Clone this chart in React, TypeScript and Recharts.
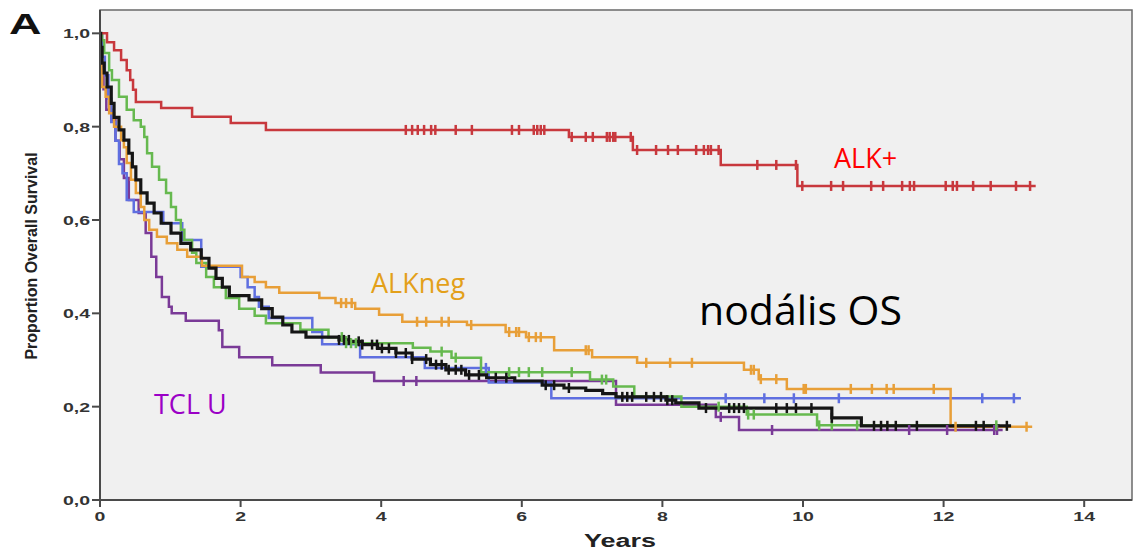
import { ComposedChart, Line, Scatter, XAxis, YAxis, ReferenceArea } from "recharts";

// axis ticks
const yearTicks = [0, 2, 4, 6, 8, 10, 12, 14];
const survTicks = [0, 0.2, 0.4, 0.6, 0.8, 1.0];

// ALK+ (red)
const alkPosT = [0, 0.1, 0.2, 0.3, 0.38, 0.43, 0.47, 0.51, 0.87, 1.31, 1.86, 2.36, 6.67, 7.58, 8.83, 9.92];
const alkPosS = [1.0, 0.981, 0.964, 0.943, 0.921, 0.9, 0.879, 0.853, 0.84, 0.821, 0.808, 0.793, 0.778, 0.75, 0.718, 0.673];
const alkPosEnd = 13.31;
const alkPosCens = [4.35, 4.44, 4.52, 4.61, 4.71, 4.77, 5.06, 5.29, 5.86, 5.96, 6.17, 6.22, 6.27, 6.32, 6.71, 6.91, 7.01, 7.21, 7.25, 7.3, 7.33, 7.55, 7.64, 7.91, 8.08, 8.22, 8.48, 8.59, 8.65, 8.69, 8.8, 9.35, 9.62, 9.9, 9.99, 10.4, 10.57, 10.97, 11.14, 11.41, 11.52, 11.58, 12.03, 12.13, 12.19, 12.42, 12.67, 13.03, 13.23];

// ALKneg (orange)
const alkNegT = [0, 0.01, 0.02, 0.03, 0.08, 0.13, 0.2, 0.3, 0.34, 0.38, 0.44, 0.51, 0.58, 0.63, 0.7, 0.81, 0.95, 1.1, 1.24, 1.45, 2.02, 2.2, 2.36, 2.55, 3.12, 3.35, 3.63, 3.97, 4.3, 5.22, 5.77, 6.06, 6.46, 7.0, 7.64, 9.16, 9.37, 9.77, 12.1];
const alkNegS = [1.0, 0.96, 0.92, 0.885, 0.864, 0.829, 0.8, 0.771, 0.756, 0.722, 0.686, 0.658, 0.628, 0.6, 0.579, 0.564, 0.55, 0.536, 0.521, 0.502, 0.478, 0.467, 0.456, 0.444, 0.433, 0.422, 0.41, 0.397, 0.382, 0.375, 0.36, 0.349, 0.321, 0.306, 0.294, 0.279, 0.259, 0.238, 0.157];
const alkNegEnd = 13.26;
const alkNegCens = [3.43, 3.5, 3.58, 4.51, 4.64, 4.86, 4.96, 5.28, 5.82, 5.92, 5.96, 6.1, 6.2, 6.27, 6.91, 6.95, 7.77, 8.11, 8.42, 9.26, 9.3, 9.4, 9.62, 10.01, 10.04, 10.68, 10.98, 11.19, 11.29, 11.86, 12.17, 13.18];

// green group
const greenT = [0, 0.03, 0.06, 0.13, 0.17, 0.27, 0.38, 0.48, 0.58, 0.63, 0.67, 0.74, 0.84, 0.94, 1.01, 1.08, 1.15, 1.2, 1.31, 1.37, 1.51, 1.62, 1.79, 1.98, 2.2, 2.36, 2.85, 3.25, 3.5, 4.45, 4.7, 5.0, 5.42, 6.97, 7.3, 7.6, 8.27, 9.2, 10.2];
const greenS = [1.0, 0.985, 0.958, 0.921, 0.9, 0.864, 0.836, 0.814, 0.8, 0.778, 0.743, 0.714, 0.686, 0.658, 0.628, 0.6, 0.579, 0.557, 0.53, 0.508, 0.478, 0.456, 0.433, 0.41, 0.395, 0.379, 0.365, 0.349, 0.336, 0.326, 0.318, 0.305, 0.274, 0.258, 0.243, 0.222, 0.2, 0.183, 0.16];
const greenEnd = 12.8;
const greenCens = [3.44, 3.5, 3.57, 3.64, 4.86, 5.06, 5.82, 5.96, 6.1, 6.29, 6.71, 7.14, 7.2, 8.8, 9.22, 9.3, 10.23, 10.41, 10.77, 12.75];

// blue group
const blueT = [0, 0.03, 0.07, 0.12, 0.16, 0.22, 0.27, 0.32, 0.38, 0.48, 0.9, 1.17, 1.44, 2.0, 2.1, 2.2, 2.26, 2.4, 3.02, 3.16, 3.7, 4.62, 5.53, 6.42];
const blueS = [1.0, 0.95, 0.91, 0.86, 0.81, 0.77, 0.72, 0.7, 0.643, 0.617, 0.593, 0.557, 0.5, 0.478, 0.456, 0.435, 0.414, 0.39, 0.36, 0.334, 0.306, 0.283, 0.252, 0.218];
const blueEnd = 13.1;
const blueCens = [5.49, 8.9, 9.45, 9.87, 10.51, 12.55, 13.0];

// TCL U (purple)
const tclT = [0, 0.02, 0.05, 0.09, 0.16, 0.22, 0.28, 0.34, 0.41, 0.55, 0.65, 0.73, 0.8, 0.88, 0.98, 1.02, 1.22, 1.69, 1.74, 1.98, 2.45, 3.14, 3.9, 7.34, 8.76, 9.09];
const tclS = [1.0, 0.93, 0.88, 0.836, 0.814, 0.77, 0.73, 0.69, 0.643, 0.615, 0.572, 0.521, 0.478, 0.435, 0.414, 0.4, 0.384, 0.364, 0.328, 0.306, 0.289, 0.273, 0.255, 0.204, 0.178, 0.15];
const tclEnd = 12.84;
const tclCens = [4.32, 4.5, 8.83, 9.56, 11.51, 12.05, 12.72, 12.76];

// nodal OS overall (black)
const allT = [0, 0.01, 0.03, 0.06, 0.1, 0.16, 0.2, 0.27, 0.34, 0.41, 0.46, 0.51, 0.58, 0.67, 0.77, 0.87, 1.01, 1.15, 1.29, 1.44, 1.55, 1.65, 1.74, 1.84, 2.12, 2.3, 2.45, 2.6, 2.73, 2.93, 3.4, 3.55, 3.73, 3.95, 4.21, 4.44, 4.7, 4.92, 5.2, 5.5, 5.9, 6.29, 6.6, 6.91, 7.15, 7.34, 8.05, 8.19, 8.52, 10.41, 10.83];
const allS = [1.0, 0.97, 0.936, 0.915, 0.885, 0.85, 0.82, 0.793, 0.771, 0.743, 0.714, 0.686, 0.658, 0.636, 0.615, 0.593, 0.572, 0.55, 0.536, 0.518, 0.497, 0.475, 0.456, 0.438, 0.429, 0.41, 0.392, 0.375, 0.36, 0.349, 0.343, 0.34, 0.333, 0.325, 0.315, 0.302, 0.29, 0.279, 0.268, 0.262, 0.255, 0.246, 0.24, 0.235, 0.228, 0.221, 0.214, 0.208, 0.197, 0.176, 0.159];
const allEnd = 12.96;
const allCens = [3.4, 3.47, 3.54, 3.68, 3.73, 3.87, 3.94, 4.01, 4.11, 4.21, 4.35, 4.44, 4.64, 4.78, 4.86, 4.96, 5.06, 5.14, 5.25, 5.39, 5.63, 5.78, 6.34, 6.46, 6.67, 7.43, 7.5, 7.57, 7.77, 7.88, 7.98, 8.07, 8.14, 8.62, 8.95, 9.02, 9.09, 9.16, 9.62, 9.77, 9.9, 10.12, 10.41, 11.01, 11.11, 11.2, 11.32, 11.62, 12.46, 12.57, 12.9];

const X_MAX = 14.68;
const Y_MAX = 1.05;
const narrow = "'Liberation Sans Narrow', 'Liberation Sans', Arial, sans-serif";
const calibri = "'Open Sans', 'Noto Sans', sans-serif";

function steps(ts: number[], ss: number[], end: number) {
  const pts = ts.map((t, i) => ({ t, s: ss[i] }));
  pts.push({ t: end, s: ss[ss.length - 1] });
  return pts;
}

// censor marks sit on the curve at their time
function censored(ts: number[], ss: number[], cens: number[]) {
  return cens.map((c) => {
    let i = 0;
    while (i + 1 < ts.length && ts[i + 1] <= c) i++;
    return { t: c, s: ss[i] };
  });
}

const series = [
  { name: "TCL U", t: tclT, s: tclS, end: tclEnd, cens: tclCens, color: "#7a3a97", w: 2.5 },
  { name: "blue", t: blueT, s: blueS, end: blueEnd, cens: blueCens, color: "#5f6fe0", w: 2.5 },
  { name: "green", t: greenT, s: greenS, end: greenEnd, cens: greenCens, color: "#66b94f", w: 2.5 },
  { name: "ALKneg", t: alkNegT, s: alkNegS, end: alkNegEnd, cens: alkNegCens, color: "#e89f38", w: 2.5 },
  { name: "ALK+", t: alkPosT, s: alkPosS, end: alkPosEnd, cens: alkPosCens, color: "#c8383d", w: 2.5 },
  { name: "nodal OS", t: allT, s: allS, end: allEnd, cens: allCens, color: "#151515", w: 3.2 },
];

const stretch = (x: number) => `translate(${x} 0) scale(1.5 1) translate(${-x} 0)`;

function YTick(props: any) {
  const { x, y, payload } = props;
  return (
    <text x={x} y={y} dy={5} textAnchor="end" fontSize={13} fontWeight="bold" fill="#333"
      fontFamily={narrow} transform={stretch(x)}>
      {payload.value.toFixed(1).replace(".", ",")}
    </text>
  );
}

function XTick(props: any) {
  const { x, y, payload } = props;
  return (
    <text x={x} y={y} dy={12} textAnchor="middle" fontSize={13} fontWeight="bold" fill="#333"
      fontFamily={narrow} transform={stretch(x)}>
      {payload.value}
    </text>
  );
}

function censorMark(color: string) {
  return (p: any) => (
    <line x1={p.cx} x2={p.cx} y1={p.cy - 5} y2={p.cy + 5} stroke={color} strokeWidth={2.5} />
  );
}

export default function App() {
  return (
    <div style={{ position: "absolute", left: 0, top: 0, width: 1138, height: 553, background: "#fff" }}>
      <ComposedChart width={1138} height={553} margin={{ top: 10, right: 6, bottom: 0, left: 0 }}>
        <XAxis type="number" dataKey="t" domain={[0, X_MAX]} ticks={yearTicks} height={53}
          allowDataOverflow tick={<XTick />} tickSize={7}
          axisLine={{ stroke: "#4a4a4a", strokeWidth: 2 }} tickLine={{ stroke: "#4a4a4a", strokeWidth: 2 }} />
        <YAxis type="number" dataKey="s" domain={[0, Y_MAX]} ticks={survTicks} width={100}
          allowDataOverflow tick={<YTick />} tickSize={8}
          axisLine={{ stroke: "#4a4a4a", strokeWidth: 2 }} tickLine={{ stroke: "#4a4a4a", strokeWidth: 2 }} />
        <ReferenceArea x1={0} x2={X_MAX} y1={0} y2={Y_MAX} fill="#f0f0f0" fillOpacity={1}
          stroke="#6a6a6a" strokeWidth={1.5} />
        {series.map((sr) => (
          <Line key={sr.name} data={steps(sr.t, sr.s, sr.end)} dataKey="s" type="stepAfter"
            stroke={sr.color} strokeWidth={sr.w} dot={false} isAnimationActive={false} />
        ))}
        {series.map((sr) => (
          <Scatter key={sr.name + "-c"} data={censored(sr.t, sr.s, sr.cens)} dataKey="s"
            shape={censorMark(sr.color)} isAnimationActive={false} />
        ))}
      </ComposedChart>
      <svg width={1138} height={553} style={{ position: "absolute", left: 0, top: 0, pointerEvents: "none" }}>
        <text x={9} y={34} fontSize={30} fontWeight="bold" fontFamily={narrow} fill="#111"
          transform={stretch(9)}>A</text>
        <text x={0} y={0} fontSize={16} fontWeight="bold" fontFamily={narrow} fill="#222"
          textAnchor="middle" transform="translate(37 256) rotate(-90)">Proportion Overall Survival</text>
        <text x={620} y={547} fontSize={18} fontWeight="bold" fontFamily={narrow} fill="#222"
          textAnchor="middle" textLength={72} lengthAdjust="spacingAndGlyphs">Years</text>
        <text x={834} y={168} fontSize={27} fontFamily={calibri} fill="#ff0000">ALK+</text>
        <text x={371} y={293} fontSize={27} fontFamily={calibri} fill="#e3a01a">ALKneg</text>
        <text x={699} y={325} fontSize={41} fontFamily={calibri} fill="#000">nodális OS</text>
        <text x={154} y={414} fontSize={27} fontFamily={calibri} fill="#9b00c6">TCL U</text>
      </svg>
    </div>
  );
}
